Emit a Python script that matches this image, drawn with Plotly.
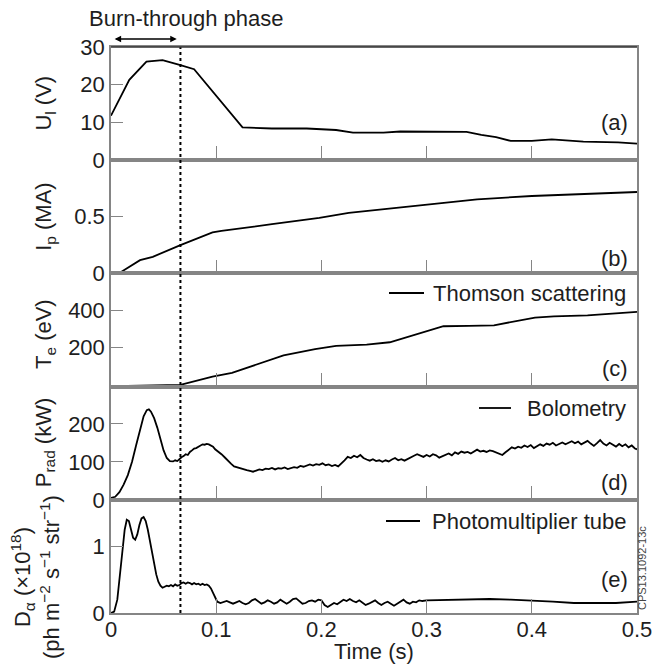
import plotly.graph_objects as go
from plotly.subplots import make_subplots

# ---------------- data ----------------
t_ul = [0.0, 0.0174, 0.0337, 0.049, 0.066, 0.079, 0.125, 0.153, 0.186, 0.214, 0.23, 0.259,
        0.275, 0.299, 0.316, 0.338, 0.352, 0.366, 0.38, 0.40, 0.419, 0.433, 0.449, 0.482, 0.5]
ul = [11.8, 21.3, 26.1, 26.5, 25.2, 24.1, 8.7, 8.4, 8.4, 8.0, 7.3, 7.3,
      7.6, 7.5, 7.6, 7.5, 6.7, 6.1, 5.1, 5.1, 5.5, 5.3, 4.9, 4.7, 4.4]

t_ip = [0.0073, 0.0276, 0.0397, 0.066, 0.0965, 0.105, 0.153, 0.198, 0.226, 0.259, 0.299,
        0.348, 0.40, 0.441, 0.5]
ip = [0.0, 0.116, 0.145, 0.247, 0.358, 0.372, 0.43, 0.485, 0.529, 0.561, 0.602,
      0.648, 0.677, 0.692, 0.712]

t_te = [0.0154, 0.066, 0.0965, 0.115, 0.164, 0.194, 0.214, 0.243, 0.265, 0.316, 0.34,
        0.364, 0.403, 0.421, 0.453, 0.5]
te = [-2, 3, 47, 67, 159, 193, 210, 217, 229, 314, 316, 319, 360, 366, 372, 390]

t_prad = [0.000, 0.004, 0.008, 0.012, 0.016, 0.020, 0.024, 0.028, 0.031, 0.034, 0.036, 0.038,
          0.041, 0.044, 0.047, 0.050, 0.053, 0.056, 0.059, 0.061, 0.063, 0.065, 0.067, 0.069,
          0.071, 0.073, 0.075, 0.077, 0.079, 0.081, 0.083, 0.085, 0.087, 0.089, 0.091, 0.093,
          0.095, 0.097, 0.099, 0.102, 0.105, 0.108, 0.111, 0.114, 0.117, 0.120, 0.123, 0.126,
          0.129, 0.132, 0.135, 0.138, 0.141, 0.144, 0.147, 0.150, 0.153, 0.156, 0.159, 0.162,
          0.165, 0.168, 0.171, 0.174, 0.177, 0.180, 0.183, 0.186, 0.189, 0.192, 0.195, 0.198,
          0.201, 0.204, 0.207, 0.210, 0.213, 0.216, 0.219, 0.222, 0.225, 0.228, 0.231, 0.234,
          0.237, 0.240, 0.243, 0.246, 0.249, 0.252, 0.255, 0.258, 0.261, 0.264, 0.267, 0.270,
          0.273, 0.276, 0.279, 0.282, 0.285, 0.288, 0.291, 0.294, 0.297, 0.300, 0.303, 0.306,
          0.309, 0.312, 0.315, 0.318, 0.321, 0.324, 0.327, 0.330, 0.333, 0.336, 0.339, 0.342,
          0.345, 0.348, 0.351, 0.354, 0.357, 0.360, 0.363, 0.366, 0.369, 0.372, 0.375, 0.378,
          0.381, 0.384, 0.387, 0.390, 0.393, 0.396, 0.399, 0.402, 0.405, 0.408, 0.411, 0.414,
          0.417, 0.420, 0.423, 0.426, 0.429, 0.432, 0.435, 0.438, 0.441, 0.444, 0.447, 0.450,
          0.453, 0.456, 0.459, 0.462, 0.465, 0.468, 0.471, 0.474, 0.477, 0.480, 0.483, 0.486,
          0.489, 0.492, 0.495, 0.498, 0.500]
prad = [5, 8, 20, 40, 65, 100, 145, 190, 220, 236, 238, 232,
        215, 190, 160, 130, 110, 102, 101, 104, 102, 108, 112, 115,
        120, 118, 126, 130, 135, 136, 140, 144, 146, 145, 147, 146,
        143, 140, 133, 127, 120, 112, 103, 95, 88, 85, 83, 80,
        78, 76, 74, 77, 80, 78, 82, 81, 84, 80, 83, 82,
        85, 81, 84, 86, 84, 89, 87, 91, 93, 90, 94, 92,
        96, 91, 93, 89, 92, 88, 95, 104, 113, 110, 116, 112,
        118, 110, 106, 103, 107, 102, 104, 100, 104, 101, 106, 110,
        104, 107, 103, 108, 112, 116, 120, 117, 113, 118, 114, 120,
        117, 111, 115, 119, 122, 117, 125, 121, 127, 124, 126, 122,
        128, 132, 127, 129, 126, 130, 128, 124, 121, 118, 125, 132,
        138, 135, 140, 137, 143, 139, 144, 136, 141, 146, 142, 148,
        145, 150, 143, 147, 151, 146, 150, 154, 149, 153, 146, 150,
        155, 148, 142, 149, 157, 148, 143, 150, 144, 140, 147, 141,
        146, 138, 143, 135, 133]

t_da = [0.000, 0.003, 0.006, 0.009, 0.011, 0.013, 0.015, 0.017, 0.019, 0.021, 0.023, 0.025,
        0.027, 0.029, 0.031, 0.033, 0.035, 0.037, 0.039, 0.041, 0.043, 0.045, 0.047, 0.049,
        0.051, 0.053, 0.055, 0.057, 0.059, 0.061, 0.063, 0.065, 0.067, 0.069, 0.071, 0.073,
        0.075, 0.077, 0.079, 0.081, 0.083, 0.085, 0.087, 0.089, 0.091, 0.093, 0.095, 0.097,
        0.099, 0.101, 0.104, 0.107, 0.110, 0.113, 0.116, 0.119, 0.122, 0.125, 0.128, 0.131,
        0.134, 0.137, 0.140, 0.143, 0.146, 0.149, 0.152, 0.155, 0.158, 0.161, 0.164, 0.167,
        0.170, 0.173, 0.176, 0.179, 0.182, 0.185, 0.188, 0.191, 0.194, 0.197, 0.200, 0.203,
        0.206, 0.209, 0.212, 0.215, 0.218, 0.221, 0.224, 0.227, 0.230, 0.233, 0.236, 0.239,
        0.242, 0.245, 0.248, 0.251, 0.254, 0.257, 0.260, 0.263, 0.266, 0.269, 0.272, 0.275,
        0.278, 0.281, 0.284, 0.287, 0.290, 0.293, 0.296, 0.300, 0.320, 0.340, 0.360, 0.380,
        0.400, 0.420, 0.440, 0.460, 0.480, 0.500]
da = [0.00, 0.02, 0.20, 0.60, 0.95, 1.25, 1.40, 1.38, 1.25, 1.13, 1.10, 1.18,
      1.32, 1.42, 1.44, 1.38, 1.25, 1.08, 0.90, 0.72, 0.58, 0.47, 0.41, 0.38,
      0.39, 0.41, 0.40, 0.42, 0.40, 0.43, 0.41, 0.42, 0.45, 0.46, 0.44, 0.46,
      0.45, 0.43, 0.45, 0.43, 0.44, 0.42, 0.44, 0.42, 0.43, 0.41, 0.37, 0.30,
      0.23, 0.17, 0.15, 0.17, 0.18, 0.16, 0.14, 0.16, 0.18, 0.15, 0.13, 0.15,
      0.19, 0.21, 0.18, 0.14, 0.16, 0.19, 0.17, 0.14, 0.16, 0.20, 0.17, 0.14,
      0.17, 0.21, 0.22, 0.18, 0.14, 0.15, 0.18, 0.19, 0.17, 0.20, 0.19, 0.12,
      0.09, 0.12, 0.15, 0.13, 0.17, 0.20, 0.18, 0.21, 0.18, 0.16, 0.19, 0.15,
      0.12, 0.14, 0.17, 0.19, 0.15, 0.12, 0.15, 0.17, 0.14, 0.11, 0.14, 0.17,
      0.20, 0.16, 0.14, 0.17, 0.16, 0.19, 0.18, 0.19, 0.195, 0.20, 0.21, 0.20,
      0.19, 0.17, 0.15, 0.15, 0.15, 0.17]

burn_end = 0.066
x_ticks = [0, 0.1, 0.2, 0.3, 0.4, 0.5]
x_ticklabels = ["0", "0.1", "0.2", "0.3", "0.4", "0.5"]

panel_titles = ["U<sub>l</sub> (V)", "I<sub>p</sub> (MA)", "T<sub>e</sub> (eV)",
                "P<sub>rad</sub> (kW)",
                "D<sub>\u03b1</sub> (\u00d710<sup>18</sup>)<br>(ph m<sup>\u22122</sup> s<sup>\u22121</sup> str<sup>\u22121</sup>)"]
panel_letters = ["(a)", "(b)", "(c)", "(d)", "(e)"]
legend_names = [None, None, "Thomson scattering", "Bolometry", "Photomultiplier tube"]
y_ranges = [[0, 30], [0, 0.99], [-6, 594], [0, 298], [0, 1.7]]
y_tickvals = [[0, 10, 20, 30], [0, 0.5], [200, 400], [0, 100, 200], [0, 1]]
y_ticktext = [["0", "10", "20", "30"], ["0", "0.5"], ["200", "400"], ["0", "100", "200"], ["0", "1"]]

series = [(t_ul, ul), (t_ip, ip), (t_te, te), (t_prad, prad), (t_da, da)]

# ---------------- figure ----------------
W, H = 669, 665
L, R, T, B = 111, 32, 47, 52
FONT = "Liberation Sans, Arial, Helvetica, sans-serif"
FS = 22
GRAY = "#858585"
TXT = "#1e1e1e"

def px(xp):
    return (xp - L) / (W - L - R)

def py(yp):
    return (H - B - yp) / (H - T - B)

fig = make_subplots(rows=5, cols=1, shared_xaxes=True, vertical_spacing=0)

for i, (tx, vy) in enumerate(series):
    fig.add_trace(go.Scatter(x=tx, y=vy, mode="lines",
                             line=dict(color="black", width=1.8),
                             showlegend=False, hoverinfo="skip"),
                  row=i + 1, col=1)
    fig.update_xaxes(range=[0, 0.5], showline=True, mirror=True, linecolor=GRAY, linewidth=1.5,
                     ticks="inside", ticklen=14, tickwidth=1.3, tickcolor=GRAY,
                     tickvals=x_ticks, ticktext=x_ticklabels, showgrid=False, zeroline=False,
                     showticklabels=(i == 4), tickfont=dict(size=FS, color=TXT, family=FONT),
                     row=i + 1, col=1)
    fig.update_yaxes(range=y_ranges[i], showline=True, mirror=True, linecolor=GRAY, linewidth=1.5,
                     ticks="inside", ticklen=12, tickwidth=1.3, tickcolor=GRAY,
                     tickvals=y_tickvals[i], ticktext=y_ticktext[i], showgrid=False, zeroline=False,
                     tickfont=dict(size=FS, color=TXT, family=FONT),
                     row=i + 1, col=1)

fig.update_xaxes(ticklabelstandoff=-4, row=5, col=1)

annotations = []
shapes = []

panel_h = (H - T - B) / 5
for i in range(5):
    top = T + i * panel_h
    ctr = top + panel_h / 2
    if i < 4:
        annotations.append(dict(xref="paper", yref="paper", x=px(45), y=py(ctr + (4 if i == 2 else 0)),
                                text=panel_titles[i], textangle=-90, showarrow=False,
                                xanchor="center", yanchor="middle",
                                font=dict(size=FS, family=FONT, color=TXT)))
    else:
        annotations.append(dict(xref="paper", yref="paper", x=px(35), y=py(577),
                                text=panel_titles[i], textangle=-90, showarrow=False,
                                xanchor="center", yanchor="middle",
                                font=dict(size=FS, family=FONT, color=TXT)))

letter_y = [122, 258, 368, 482, 579]
for i in range(5):
    annotations.append(dict(xref="paper", yref="paper", x=px(630), y=py(letter_y[i]),
                            text=panel_letters[i], showarrow=False, xanchor="right", yanchor="middle",
                            font=dict(size=FS, family=FONT, color=TXT)))

leg_y = [None, None, 293, 408, 521]
leg_line = [None, None, (389, 424), (479, 511), (386, 420)]
for i in range(2, 5):
    annotations.append(dict(xref="paper", yref="paper", x=px(628), y=py(leg_y[i]),
                            text=legend_names[i], showarrow=False, xanchor="right", yanchor="middle",
                            font=dict(size=FS, family=FONT, color=TXT)))
    shapes.append(dict(type="line", xref="paper", yref="paper",
                       x0=px(leg_line[i][0]), x1=px(leg_line[i][1]),
                       y0=py(leg_y[i]), y1=py(leg_y[i]), line=dict(color="black", width=1.8)))

shapes.append(dict(type="line", xref="x", yref="paper", x0=burn_end, x1=burn_end, y0=0, y1=1,
                   line=dict(color="black", width=2, dash="dot")))
shapes.append(dict(type="line", xref="paper", yref="paper", x0=0, x1=1, y0=1, y1=1,
                   line=dict(color="#333", width=1.5)))

annotations.append(dict(xref="x", yref="paper", x=0.0625, y=py(39), axref="x", ax=0.002,
                        ayref="pixel", ay=0, text="", showarrow=True, arrowside="end+start",
                        arrowhead=2, arrowsize=1, arrowwidth=1.3, arrowcolor="black"))
annotations.append(dict(xref="paper", yref="paper", x=px(87), y=py(18), text="Burn-through phase",
                        showarrow=False, xanchor="left", yanchor="middle",
                        font=dict(size=22, family=FONT, color=TXT)))
annotations.append(dict(xref="paper", yref="paper", x=px(374), y=py(651), text="Time (s)",
                        showarrow=False, xanchor="center", yanchor="middle",
                        font=dict(size=FS, family=FONT, color=TXT)))
annotations.append(dict(xref="paper", yref="paper", x=px(642), y=py(568), text="CPS13.1092-13c",
                        showarrow=False, textangle=-90, xanchor="center", yanchor="middle",
                        font=dict(size=11, family=FONT, color="#444")))

fig.update_layout(width=W, height=H, margin=dict(l=L, r=R, t=T, b=B),
                  paper_bgcolor="white", plot_bgcolor="white",
                  annotations=annotations, shapes=shapes, showlegend=False,
                  font=dict(family=FONT, size=FS, color=TXT))

fig.write_html("out.html", post_script="document.body.style.margin='0';",
               config={"displayModeBar": False})
